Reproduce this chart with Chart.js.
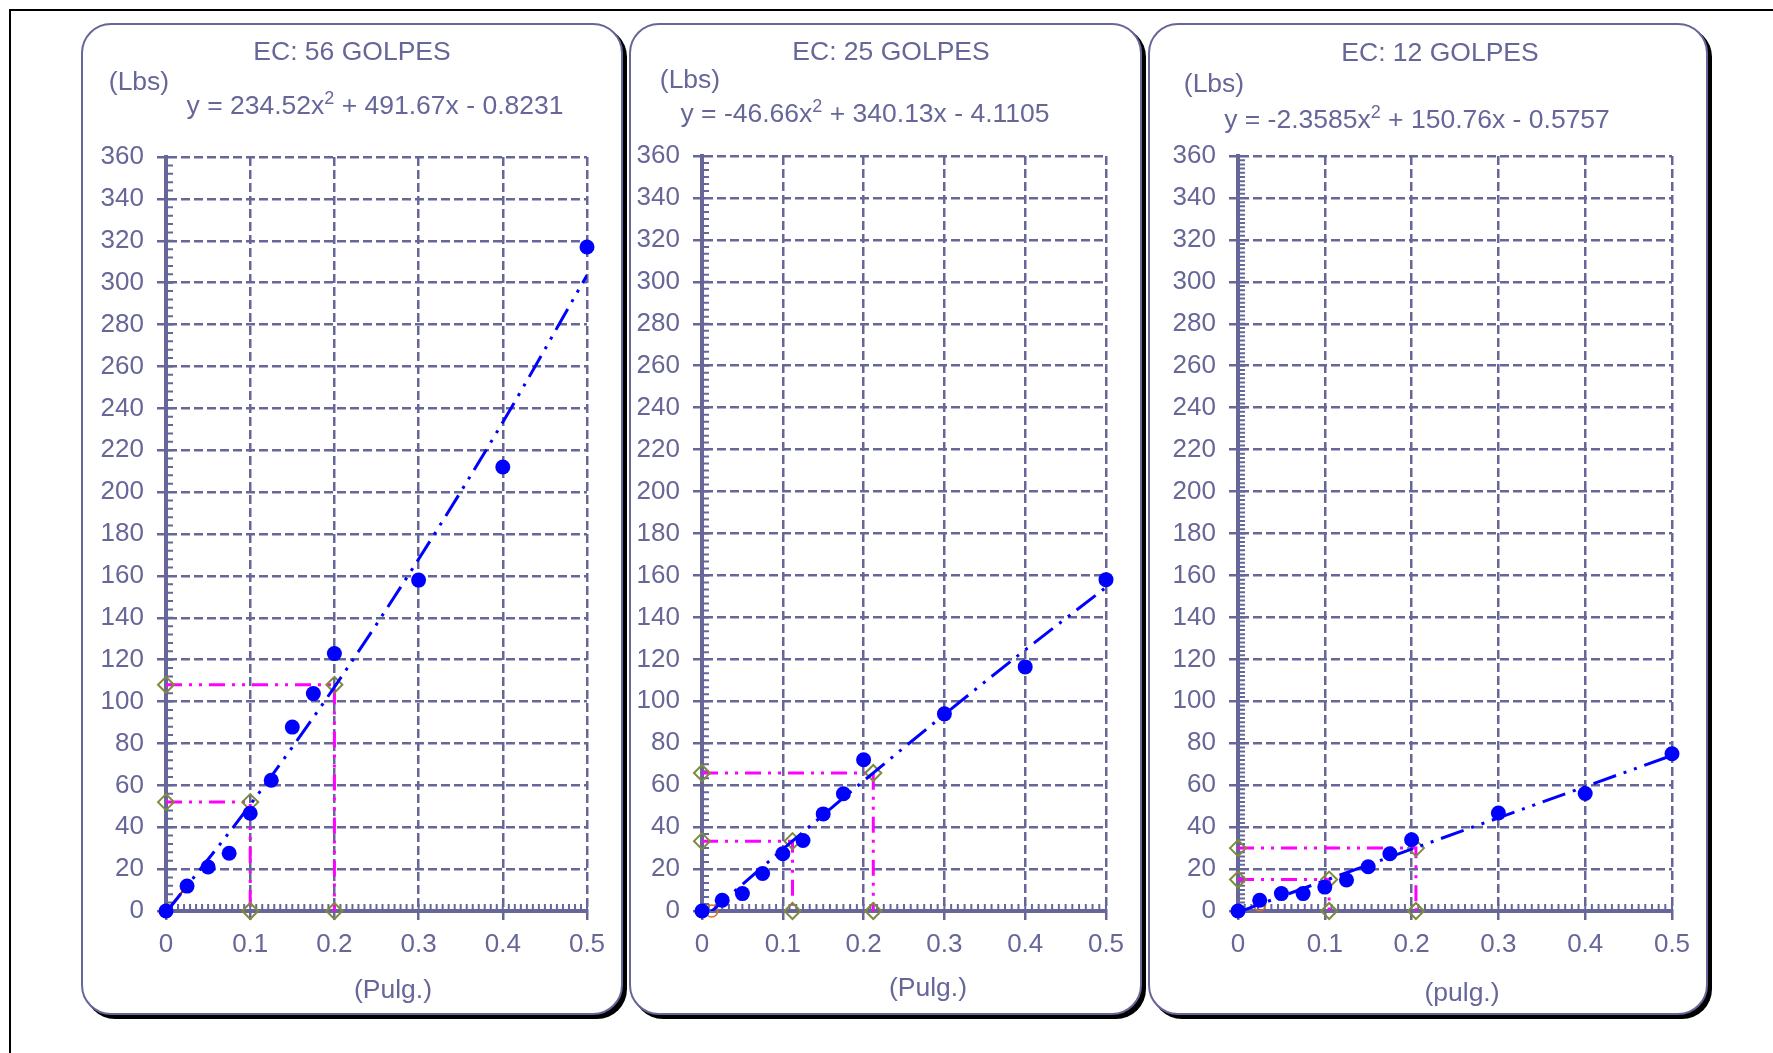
<!DOCTYPE html>
<html>
<head>
<meta charset="utf-8">
<script src="https://cdn.jsdelivr.net/npm/chart.js@4.4.0/dist/chart.umd.min.js"></script>
<style>
  body { margin: 0; width: 1773px; height: 1053px; overflow: hidden; background: #fff;
         font-family: "Liberation Sans", Arial, sans-serif; color: #666699; position: relative; }
  .frame { position: absolute; left: 9px; top: 9px; width: 1800px; height: 1100px; border: 2px solid #000; }
  .panel { position: absolute; top: 23px; height: 992px; box-sizing: border-box; border: 2px solid #666699;
           border-radius: 30px; box-shadow: 4px 4px 0 #000; background: #fff; }
  .txt { position: absolute; white-space: nowrap; transform: translate(-50%, -50%); }
  .title { font-size: 26.5px; }
  .unit, .eq, .xlab { font-size: 26.5px; }
  sup { font-size: 18px; vertical-align: 10px; line-height: 0; }
  canvas { position: absolute; top: 23px; }
</style>
</head>
<body>
<div class="frame"></div>

<div class="panel" style="left:81px;width:542px"></div>
<div class="panel" style="left:629px;width:513px"></div>
<div class="panel" style="left:1148px;width:560px"></div>

<canvas id="c56" width="542" height="992" style="left:81px"></canvas>
<canvas id="c25" width="513" height="992" style="left:629px"></canvas>
<canvas id="c12" width="560" height="992" style="left:1148px"></canvas>

<div class="txt title" style="left:352px;top:51px">EC: 56 GOLPES</div>
<div class="txt unit" style="left:139px;top:81px">(Lbs)</div>
<div class="txt eq" style="left:375px;top:105px">y = 234.52x<sup>2</sup> + 491.67x - 0.8231</div>
<div class="txt xlab" style="left:393px;top:989px">(Pulg.)</div>

<div class="txt title" style="left:891px;top:51px">EC: 25 GOLPES</div>
<div class="txt unit" style="left:690px;top:79px">(Lbs)</div>
<div class="txt eq" style="left:865px;top:113px">y = -46.66x<sup>2</sup> + 340.13x - 4.1105</div>
<div class="txt xlab" style="left:928px;top:987px">(Pulg.)</div>

<div class="txt title" style="left:1440px;top:52px">EC: 12 GOLPES</div>
<div class="txt unit" style="left:1214px;top:83px">(Lbs)</div>
<div class="txt eq" style="left:1417px;top:119px">y = -2.3585x<sup>2</sup> + 150.76x - 0.5757</div>
<div class="txt xlab" style="left:1462px;top:992px">(pulg.)</div>

<script>
// deflection (pulg.) and load (lbs) readings
const deflection = [0, 0.025, 0.05, 0.075, 0.1, 0.125, 0.15, 0.175, 0.2, 0.3, 0.4, 0.5];
const load56 = [0, 11.9, 21, 27.6, 46.7, 62.4, 87.8, 103.8, 122.9, 158, 212, 317];
const load25 = [0, 5.1, 8.3, 17.9, 27.3, 33.6, 46.3, 55.9, 72.1, 94, 116.4, 158];
const load12 = [0, 5.1, 8.3, 8.3, 11.4, 14.8, 21.1, 27.3, 34, 46.7, 56, 75];

// trend lines (as drawn)
const trendX = [0, 0.1, 0.2, 0.3, 0.4, 0.5];
const trend56 = [-0.8, 50.7, 106.9, 168.0, 233.4, 303.6];
const trend25 = [-4.1, 29.4, 62.0, 93.7, 124.5, 154.3];
const trend12 = [-0.6, 14.5, 29.5, 44.4, 59.3, 74.2];

// magenta read-off lines
const readDefl56 = [0.1, 0.2];   const readLoad56 = [52, 108];
const readDefl25 = [0.112, 0.212]; const readLoad25 = [33.3, 65.8];
const readDefl12 = [0.105, 0.205]; const readLoad12 = [15, 30];

// small orange markers near origin
const markDefl56 = [0];        const markLoad56 = [0];
const markDefl25 = [0.012];    const markLoad25 = [0];
const markDefl12 = [0, 0.025]; const markLoad12 = [0, 3];

const xTickLabels = ['0', '0.1', '0.2', '0.3', '0.4', '0.5'];
const yTickStep = 20;

const axisColor = '#666699';
const fontFam = '"Liberation Sans", Arial, sans-serif';

const pts = (xs, ys) => xs.map((x, i) => ({ x: x, y: ys[i] }));

const minorTicks = {
  id: 'minorTicks',
  beforeDatasetsDraw(chart, args, opts) {
    const { ctx, scales: { x, y } } = chart;
    ctx.save();
    ctx.strokeStyle = axisColor;
    ctx.lineWidth = 2;
    ctx.beginPath();
    const nx = Math.round(0.5 / opts.xStep);
    for (let i = 1; i <= nx; i++) {
      const px = x.getPixelForValue(i * opts.xStep);
      ctx.moveTo(px, y.bottom);
      ctx.lineTo(px, y.bottom - 7);
    }
    const ny = Math.round(360 / opts.yStep);
    for (let i = 1; i <= ny; i++) {
      const py = y.getPixelForValue(i * opts.yStep);
      ctx.moveTo(x.left, py);
      ctx.lineTo(x.left + 7, py);
    }
    ctx.stroke();
    ctx.restore();
  }
};

function makeChart(id, loads, trend, rDefl, rLoad, mDefl, mLoad, lay, minor, extra) {
  const readSets = rDefl.map((d, i) => ({
    data: [{ x: 0, y: rLoad[i] }, { x: d, y: rLoad[i] }, { x: d, y: 0 }],
    showLine: true,
    borderColor: '#FF00FF',
    borderWidth: 3,
    borderDash: [16, 7, 3, 7, 3, 7],
    pointStyle: 'rectRot',
    pointRadius: 8,
    pointBorderColor: '#7F8A3C',
    pointBackgroundColor: 'rgba(255,255,255,0)',
    pointBorderWidth: 2,
    clip: 10,
    order: 3
  }));
  const datasets = [
    {
      data: pts(trendX, trend),
      showLine: true,
      borderColor: '#0000FF',
      borderWidth: 3,
      borderDash: [24, 8, 3, 8, 3, 8],
      cubicInterpolationMode: 'monotone',
      pointRadius: 0,
      order: 2
    },
    ...readSets,
    {
      data: pts(mDefl, mLoad),
      pointRadius: 6,
      pointBorderColor: '#E07020',
      pointBackgroundColor: 'rgba(255,255,255,0)',
      pointBorderWidth: 1.5,
      clip: 10,
      order: 4
    },
    {
      data: pts(deflection, loads),
      pointRadius: 7.5,
      pointBackgroundColor: '#0000FF',
      pointBorderColor: '#0000FF',
      pointBorderWidth: 0,
      clip: 10,
      order: 1
    }
  ];
  if (extra) datasets.push(extra);

  new Chart(document.getElementById(id), {
    type: 'scatter',
    data: { datasets: datasets },
    options: {
      responsive: false,
      animation: false,
      events: [],
      layout: { padding: { top: lay.top, right: lay.right, left: 0, bottom: 0 } },
      plugins: { legend: { display: false }, tooltip: { enabled: false }, minorTicks: minor },
      scales: {
        x: {
          type: 'linear', min: 0, max: 0.5,
          afterFit: (s) => { s.height = 104; },
          ticks: {
            stepSize: 0.1, padding: 9, color: axisColor,
            font: { family: fontFam, size: 26 },
            callback: (v, i) => xTickLabels[i]
          },
          grid: { color: axisColor, lineWidth: 2.5, tickLength: 9, tickColor: axisColor, tickWidth: 2.5 },
          border: { color: axisColor, width: 4, dash: [9, 4] }
        },
        y: {
          type: 'linear', min: 0, max: 360,
          afterFit: (s) => { s.width = lay.left; },
          ticks: {
            stepSize: yTickStep, padding: 13, color: axisColor,
            font: { family: fontFam, size: 26 }
          },
          grid: { color: axisColor, lineWidth: 2.5, tickLength: 9, tickColor: axisColor, tickWidth: 2.5 },
          border: { color: axisColor, width: 4, dash: [9, 4] }
        }
      }
    },
    plugins: [minorTicks]
  });
}

// short red segment at the start of the 56-blow curve
const redDefl = [0, 0.025];
const redLoad = [0, 11.9];

makeChart('c56', load56, trend56, readDefl56, readLoad56, markDefl56, markLoad56,
  { left: 85, top: 134, right: 36 }, { xStep: 0.1 / 14, yStep: 4 },
  { data: pts(redDefl, redLoad), showLine: true, borderColor: '#C00000', borderWidth: 2, pointRadius: 0, order: 2 });
makeChart('c25', load25, trend25, readDefl25, readLoad25, markDefl25, markLoad25,
  { left: 73, top: 133, right: 36 }, { xStep: 0.1 / 12, yStep: 10 / 3 });
makeChart('c12', load12, trend12, readDefl12, readLoad12, markDefl12, markLoad12,
  { left: 90, top: 133, right: 36 }, { xStep: 0.1 / 13, yStep: 2 });
</script>
</body>
</html>
